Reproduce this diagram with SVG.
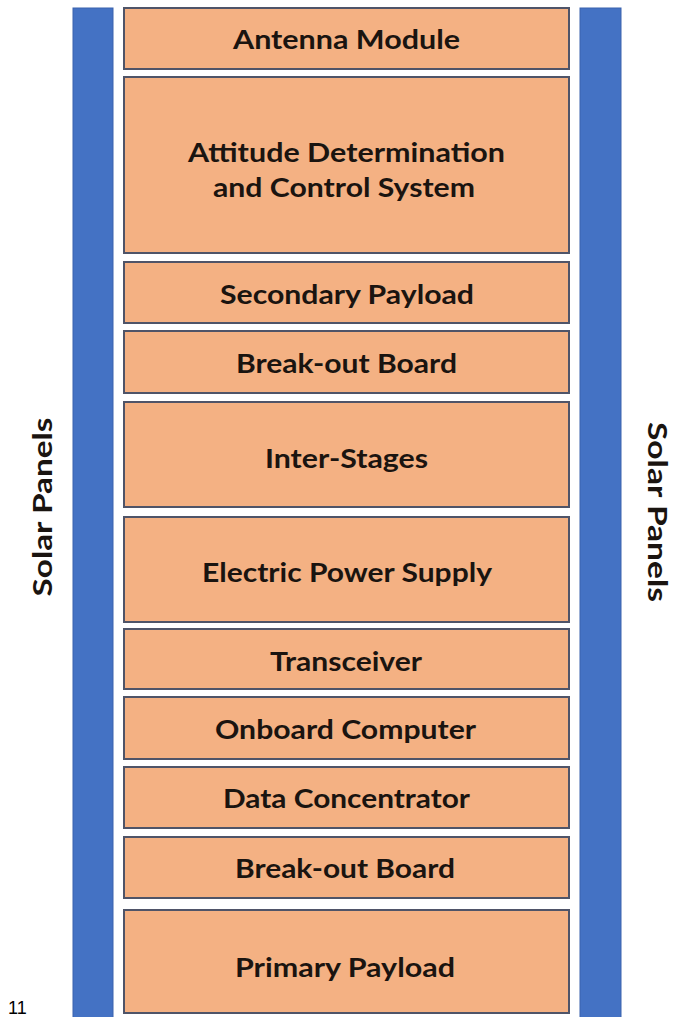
<svg xmlns="http://www.w3.org/2000/svg" width="695" height="1017" viewBox="0 0 695 1017">
<style>
.panel{fill:#4472C4;stroke:#3A62AD;stroke-width:1}
.box{fill:#F4B183;stroke:#4F5468;stroke-width:2}
.lbl{font-family:Lato,"Open Sans","Liberation Sans",sans-serif;font-weight:bold;font-size:27px;fill:#1a1410;text-anchor:middle}
.side{font-family:Lato,"Open Sans","Liberation Sans",sans-serif;font-weight:bold;font-size:27px;fill:#1a1410;text-anchor:middle}
.note{font-family:"Liberation Sans",Arial,sans-serif;font-size:18px;fill:#000}
</style>
<rect width="695" height="1017" fill="#fff"/>
<g id="solar-left">
<rect class="panel" x="73" y="8" width="40" height="1012"/>
<text class="side" transform="translate(52,507) rotate(-90)" textLength="179" lengthAdjust="spacingAndGlyphs">Solar Panels</text>
</g>
<g id="solar-right">
<rect class="panel" x="580" y="8" width="41" height="1012"/>
<text class="side" transform="translate(648,512) rotate(90)" textLength="180" lengthAdjust="spacingAndGlyphs">Solar Panels</text>
</g>
<g id="antenna-module">
<rect class="box" x="124" y="8" width="445" height="61"/>
<text class="lbl" x="346.5" y="49" textLength="227" lengthAdjust="spacingAndGlyphs">Antenna Module</text>
</g>
<g id="adcs">
<rect class="box" x="124" y="77" width="445" height="176"/>
<text class="lbl" x="346.5" y="162" textLength="317" lengthAdjust="spacingAndGlyphs">Attitude Determination</text>
<text class="lbl" x="344" y="197" textLength="262" lengthAdjust="spacingAndGlyphs">and Control System</text>
</g>
<g id="secondary-payload">
<rect class="box" x="124" y="262" width="445" height="61"/>
<text class="lbl" x="347" y="304" textLength="254" lengthAdjust="spacingAndGlyphs">Secondary Payload</text>
</g>
<g id="breakout-board-1">
<rect class="box" x="124" y="331" width="445" height="62"/>
<text class="lbl" x="346.5" y="373" textLength="221" lengthAdjust="spacingAndGlyphs">Break-out Board</text>
</g>
<g id="inter-stages">
<rect class="box" x="124" y="402" width="445" height="105"/>
<text class="lbl" x="346.5" y="468" textLength="163" lengthAdjust="spacingAndGlyphs">Inter-Stages</text>
</g>
<g id="electric-power-supply">
<rect class="box" x="124" y="517" width="445" height="105"/>
<text class="lbl" x="347" y="582" textLength="290" lengthAdjust="spacingAndGlyphs">Electric Power Supply</text>
</g>
<g id="transceiver">
<rect class="box" x="124" y="629" width="445" height="60"/>
<text class="lbl" x="346" y="671" textLength="152" lengthAdjust="spacingAndGlyphs">Transceiver</text>
</g>
<g id="onboard-computer">
<rect class="box" x="124" y="697" width="445" height="62"/>
<text class="lbl" x="345.5" y="739" textLength="261" lengthAdjust="spacingAndGlyphs">Onboard Computer</text>
</g>
<g id="data-concentrator">
<rect class="box" x="124" y="767" width="445" height="61"/>
<text class="lbl" x="346.5" y="808" textLength="247" lengthAdjust="spacingAndGlyphs">Data Concentrator</text>
</g>
<g id="breakout-board-2">
<rect class="box" x="124" y="837" width="445" height="61"/>
<text class="lbl" x="345" y="878" textLength="220" lengthAdjust="spacingAndGlyphs">Break-out Board</text>
</g>
<g id="primary-payload">
<rect class="box" x="124" y="910" width="445" height="103"/>
<text class="lbl" x="345" y="977" textLength="220" lengthAdjust="spacingAndGlyphs">Primary Payload</text>
</g>
<g id="connectors"></g>
<text class="note" x="8" y="1014">11</text>
</svg>
